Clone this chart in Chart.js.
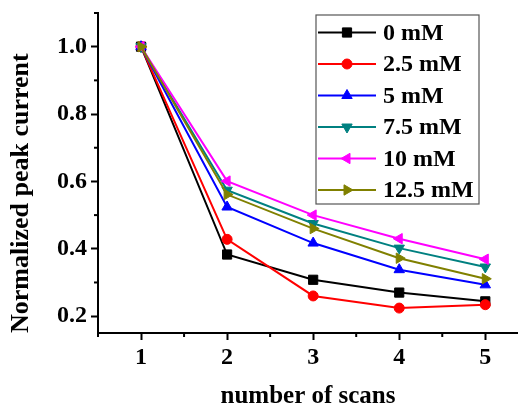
<!DOCTYPE html>
<html>
<head>
<meta charset="utf-8">
<script src="https://cdn.jsdelivr.net/npm/chart.js@4.4.0/dist/chart.umd.min.js"></script>
<style>
  html, body { margin: 0; padding: 0; background: #fff; }
  #wrap { width: 518px; height: 405px; }
</style>
</head>
<body>
<div id="wrap"><canvas id="chart" width="518" height="405"></canvas></div>
<script>
// === DONNEES ===
const scans = [1, 2, 3, 4, 5];
const labels = ["0 mM", "2.5 mM", "5 mM", "7.5 mM", "10 mM", "12.5 mM"];
const c0 = [1.0, 0.383, 0.308, 0.270, 0.244];
const c25 = [1.0, 0.428, 0.260, 0.224, 0.234];
const c5 = [1.0, 0.524, 0.417, 0.338, 0.293];
const c75 = [1.0, 0.574, 0.475, 0.402, 0.346];
const c10 = [1.0, 0.601, 0.500, 0.430, 0.369];
const c125 = [1.0, 0.561, 0.460, 0.372, 0.311];
const xTicks = [1, 2, 3, 4, 5];
const xMinor = [0.5, 1.5, 2.5, 3.5, 4.5];
const yTicks = [0.2, 0.4, 0.6, 0.8, 1.0];
const yMinor = [0.3, 0.5, 0.7, 0.9, 1.1];

const series = [c0, c25, c5, c75, c10, c125];
const colors = ["#000000", "#ff0000", "#0000ff", "#008080", "#ff00ff", "#808000"];
const styles = ["rect", "circle", "triangle", "triangle", "triangle", "triangle"];
const rotations = [0, 0, 0, 180, -90, 90];
const radii = [6.5, 5, 6, 6, 6, 6];

const FONT = "'Liberation Serif', 'Times New Roman', serif";

const datasets = series.map((vals, i) => ({
  label: labels[i],
  data: vals.map((v, k) => ({x: scans[k], y: v})),
  borderColor: colors[i],
  backgroundColor: colors[i],
  borderWidth: 2,
  pointStyle: styles[i],
  pointRotation: rotations[i],
  pointRadius: radii[i],
  pointBorderWidth: 1,
  tension: 0,
  order: series.length - i
}));

// pas de marge auto autour de la zone de tracé
function noPad(s) {
  s.paddingTop = 0; s.paddingBottom = 0;
  s.paddingLeft = 0; s.paddingRight = 0;
}

// === petites graduations ===
const minorTicks = {
  id: "minorTicks",
  afterDraw(chart) {
    const ctx = chart.ctx;
    const xs = chart.scales.x, ys = chart.scales.y;
    const area = chart.chartArea;
    ctx.save();
    ctx.strokeStyle = "#000";
    ctx.lineWidth = 2;
    xMinor.forEach(v => {
      const px = xs.getPixelForValue(v);
      if (px < area.left || px > area.right) return;
      ctx.beginPath();
      ctx.moveTo(px, area.bottom);
      ctx.lineTo(px, area.bottom + 4);
      ctx.stroke();
    });
    yMinor.forEach(v => {
      const py = ys.getPixelForValue(v);
      ctx.beginPath();
      ctx.moveTo(area.left, py);
      ctx.lineTo(area.left - 4, py);
      ctx.stroke();
    });
    ctx.restore();
  }
};

// === legende dans le cadre ===
const boxLegend = {
  id: "boxLegend",
  afterDraw(chart) {
    const ctx = chart.ctx;
    const area = chart.chartArea;
    const left = area.left + 218, top = area.top + 2;
    const w = 163, rowH = 31.5, h = 189;
    ctx.save();
    ctx.strokeStyle = "#555";
    ctx.lineWidth = 1.2;
    ctx.strokeRect(left, top, w, h);
    ctx.font = "bold 24px " + FONT;
    ctx.textBaseline = "middle";
    ctx.fillStyle = "#000";
    chart.data.datasets.forEach((ds, i) => {
      const y = top + 17.5 + i * rowH;
      ctx.strokeStyle = ds.borderColor;
      ctx.lineWidth = 2;
      ctx.beginPath();
      ctx.moveTo(left + 2, y);
      ctx.lineTo(left + 60, y);
      ctx.stroke();
      ctx.fillStyle = ds.backgroundColor;
      ctx.strokeStyle = ds.borderColor;
      ctx.lineWidth = 1;
      Chart.helpers.drawPoint(ctx, {
        pointStyle: ds.pointStyle, rotation: ds.pointRotation,
        radius: ds.pointRadius, borderWidth: 1
      }, left + 31, y);
      ctx.fillStyle = "#000";
      ctx.fillText(ds.label, left + 67, y + 1);
    });
    ctx.restore();
  }
};

new Chart(document.getElementById("chart"), {
  type: "line",
  data: {datasets},
  plugins: [minorTicks, boxLegend],
  options: {
    responsive: false,
    animation: false,
    layout: {autoPadding: false, padding: {top: 13, right: 0, left: 0, bottom: 0}},
    plugins: {legend: {display: false}, tooltip: {enabled: false}},
    scales: {
      x: {
        type: "linear",
        min: 0.5,
        max: 5.38,
        afterBuildTicks: s => { s.ticks = xTicks.map(v => ({value: v})); },
        afterFit: s => { s.height = 72; noPad(s); },
        grid: {drawOnChartArea: false, drawTicks: true, tickLength: 7, tickWidth: 2, tickColor: "#000"},
        border: {display: true, color: "#000", width: 2},
        ticks: {color: "#000", padding: 3, font: {family: FONT, size: 24, weight: "bold"}},
        title: {
          display: true, text: "number of scans", color: "#000",
          font: {family: FONT, size: 25, weight: "bold", lineHeight: 0.7},
          padding: 0
        }
      },
      y: {
        min: 0.15,
        max: 1.1,
        afterBuildTicks: s => { s.ticks = yTicks.map(v => ({value: v})); },
        afterFit: s => { s.width = 98; noPad(s); },
        grid: {drawOnChartArea: false, drawTicks: true, tickLength: 7, tickWidth: 2, tickColor: "#000"},
        border: {display: true, color: "#000", width: 2},
        ticks: {
          color: "#000", padding: 4,
          font: {family: FONT, size: 24, weight: "bold"},
          callback: v => v.toFixed(1)
        },
        title: {
          display: true, text: "Normalized peak current", color: "#000",
          align: "start",
          font: {family: FONT, size: 26, weight: "bold"},
          padding: {top: 6, bottom: 0}
        }
      }
    }
  }
});
</script>
</body>
</html>
